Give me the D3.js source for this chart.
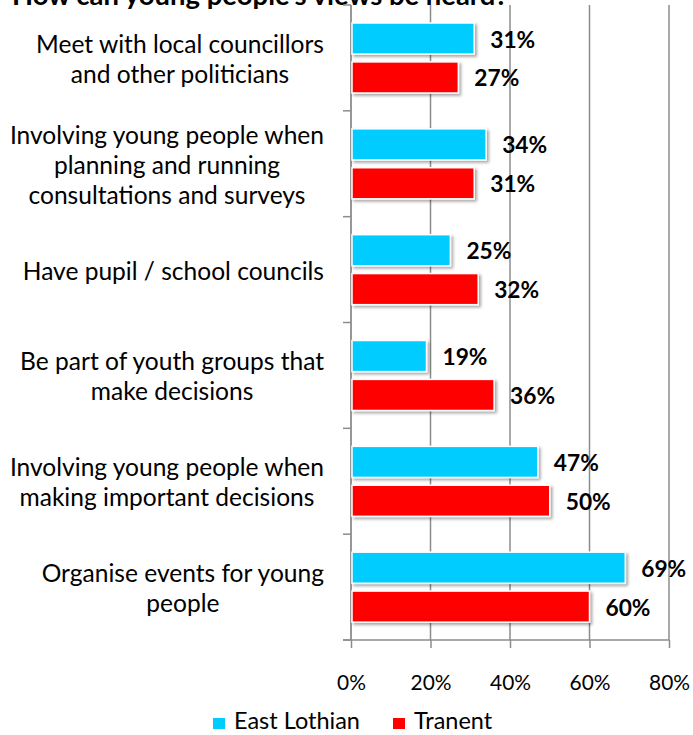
<!DOCTYPE html>
<html><head><meta charset="utf-8">
<script src="https://cdn.jsdelivr.net/npm/d3@7"></script>
<style>html,body{margin:0;padding:0;background:#fff;}svg{display:block;}</style>
</head><body>
<svg id="c" width="693" height="735"></svg>
<script>
const title = "How can young people's views be heard?";
const categories = [
  ["Meet with local councillors", "and other politicians"],
  ["Involving young people when", "planning and running", "consultations and surveys"],
  ["Have pupil / school councils"],
  ["Be part of youth groups that", "make decisions"],
  ["Involving young people when", "making important decisions"],
  ["Organise events for young", "people"]
];
const seriesNames = ["East Lothian", "Tranent"];
const eastLothian = [31, 34, 25, 19, 47, 69];
const tranent = [27, 31, 32, 36, 50, 60];
const colors = ["#00CCFF", "#FF0000"];
const tickValues = [0, 20, 40, 60, 80];

const FONT = "Lato, 'Open Sans', sans-serif";
const svg = d3.select("#c");

// font size fitting helper: size that makes `str` about `target` px wide
function fitSize(str, target, weight) {
  const t = svg.append("text").attr("font-family", FONT).attr("font-weight", weight||"normal")
    .attr("font-size", 20).text(str);
  const w = t.node().getComputedTextLength();
  t.remove();
  return 20 * target / w;
}
const catSize = fitSize("Meet with local councillors", 288);
const valSize = fitSize("31%", 45, "bold");
const tickSize = fitSize("80%", 41);
const legSize = fitSize("East Lothian", 126);
const titleSize = fitSize(title, 496, "bold");

const defs = svg.append("defs");
const f = defs.append("filter").attr("id","sh").attr("x","-10%").attr("y","-30%").attr("width","130%").attr("height","180%");
f.append("feDropShadow").attr("dx",2).attr("dy",2).attr("stdDeviation",1.8).attr("flood-color","#000").attr("flood-opacity",0.35);

const x = d3.scaleLinear().domain([0, 80]).range([351, 669]);
const keys = categories.map((c,i)=>i);
const y = d3.scaleBand().domain(keys).range([5, 640]).padding(0);
const ys = d3.scaleBand().domain(seriesNames).range([18, 88]).paddingInner(0.2);

// title
svg.append("text").attr("x", 12).attr("y", 5).attr("font-family", FONT).attr("font-weight", "bold")
  .attr("font-size", titleSize).attr("fill", "#000").text(title);

// gridlines
svg.append("g").selectAll("line").data(tickValues.slice(1)).join("line")
  .attr("x1", d=>x(d)).attr("x2", d=>x(d)).attr("y1", 5).attr("y2", 640)
  .attr("stroke", "#8c8c8c").attr("stroke-width", 1.5);

// bottom axis
const xAxis = d3.axisBottom(x).tickValues(tickValues).tickFormat(d=>d+"%").tickSizeInner(8).tickSizeOuter(0);
const gx = svg.append("g").attr("transform","translate(0,640)").call(xAxis);
gx.select(".domain").attr("stroke","#8c8c8c").attr("stroke-width",1.5).attr("d","M343,0H669");
gx.selectAll(".tick line").attr("stroke","#8c8c8c").attr("stroke-width",1.5);
gx.selectAll(".tick text").attr("font-family",FONT).attr("font-size",tickSize).attr("fill","#000")
  .attr("y", 50).attr("dy", 0);

// left axis
const gy = svg.append("g");
gy.append("line").attr("x1",351).attr("x2",351).attr("y1",5).attr("y2",640).attr("stroke","#8c8c8c").attr("stroke-width",1.8);
gy.selectAll("line.t").data(keys.map(k=>y(k)).concat([640])).join("line").attr("class","t")
  .attr("x1",343).attr("x2",351).attr("y1",d=>d).attr("y2",d=>d).attr("stroke","#8c8c8c").attr("stroke-width",1.5);

// bars
const data = [];
keys.forEach(i=>{
  data.push({cat:i, s:seriesNames[0], v:eastLothian[i], c:colors[0]});
  data.push({cat:i, s:seriesNames[1], v:tranent[i], c:colors[1]});
});
svg.append("g").selectAll("rect").data(data).join("rect")
  .attr("x", x(0)+1).attr("y", d=>y(d.cat)+ys(d.s))
  .attr("width", d=>x(d.v)-x(0)-1).attr("height", ys.bandwidth())
  .attr("fill", d=>d.c).attr("stroke","#fff").attr("stroke-width",1.5).attr("filter","url(#sh)");

// value labels
svg.append("g").selectAll("text").data(data).join("text")
  .attr("x", d=>x(d.v)+16).attr("y", d=>y(d.cat)+ys(d.s)+ys.bandwidth()/2+9)
  .attr("font-family",FONT).attr("font-weight","bold").attr("font-size",valSize).attr("fill","#000")
  .text(d=>d.v+"%");

// category labels
const lineH = 30;
keys.forEach(i=>{
  const lines = categories[i];
  const g = svg.append("g");
  const ts = lines.map((l,j)=>g.append("text").attr("font-family",FONT).attr("font-size",catSize).attr("fill","#000")
    .attr("text-anchor","middle").text(l));
  const maxW = d3.max(ts, t=>t.node().getComputedTextLength());
  const cx = 324 - maxW/2;
  const cy = y(i) + y.bandwidth()/2;
  ts.forEach((t,j)=>t.attr("x",cx).attr("y", cy + (j - (lines.length-1)/2)*lineH + 10));
});

// legend
const leg = svg.append("g");
const legX = [213, 393];
seriesNames.forEach((s,i)=>{
  leg.append("rect").attr("x",legX[i]).attr("y",718).attr("width",12).attr("height",11).attr("fill",colors[i]);
  leg.append("text").attr("x",legX[i]+21).attr("y",729).attr("font-family",FONT).attr("font-size",legSize).attr("fill","#000").text(s);
});
</script>
</body></html>
